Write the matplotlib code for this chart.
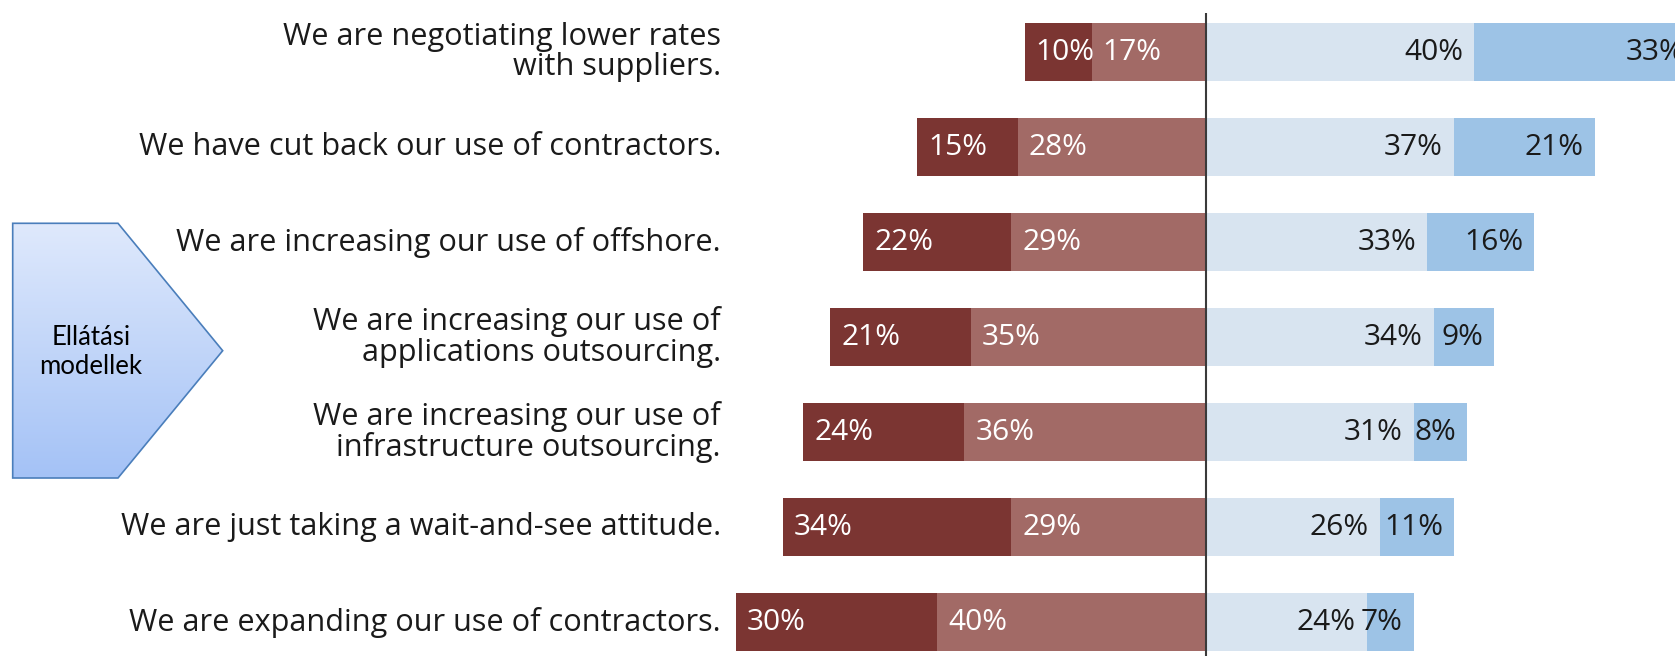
import matplotlib
matplotlib.use("Agg")
import matplotlib.pyplot as plt
import numpy as np
from matplotlib.patches import Polygon
from matplotlib.colors import LinearSegmentedColormap

# Survey statements, top to bottom
statements = [
    "We are negotiating lower rates\nwith suppliers.",
    "We have cut back our use of contractors.",
    "We are increasing our use of offshore.",
    "We are increasing our use of\napplications outsourcing.",
    "We are increasing our use of\ninfrastructure outsourcing.",
    "We are just taking a wait-and-see attitude.",
    "We are expanding our use of contractors.",
]
# Left side (disagree): outer dark segment and inner light segment
strong_no = [10, 15, 22, 21, 24, 34, 30]
some_no = [17, 28, 29, 35, 36, 29, 40]
# Right side (agree): inner light segment and outer blue segment
some_yes = [40, 37, 33, 34, 31, 26, 24]
strong_yes = [33, 21, 16, 9, 8, 11, 7]

callout_text = "Ellátási\nmodellek"

C_DARK_RED = "#7B3532"
C_LIGHT_RED = "#A26A66"
C_LIGHT_BLUE = "#D8E4F0"
C_BLUE = "#9DC3E6"
TEXT_DARK = "#1A1A1A"

W, H = 1675, 656
fig = plt.figure(figsize=(W / 100, H / 100), dpi=100)
fig.patch.set_facecolor("white")

# Main diverging bar axes
ax = fig.add_axes([725 / W, 0, 950 / W, (H - 12.7) / H])
ax.set_xlim(-71.64, 69.94)
ax.set_ylim(6.356, -0.416)
ax.axis("off")

y = np.arange(len(statements))
sn = np.array(strong_no)
mn = np.array(some_no)
my = np.array(some_yes)
sy = np.array(strong_yes)
bh = 0.616

ax.barh(y, -mn, height=bh, color=C_LIGHT_RED, linewidth=0)
ax.barh(y, -sn, left=-mn, height=bh, color=C_DARK_RED, linewidth=0)
ax.barh(y, my, height=bh, color=C_LIGHT_BLUE, linewidth=0)
ax.barh(y, sy, left=my, height=bh, color=C_BLUE, linewidth=0)
ax.axvline(0, color="#3A3A3A", lw=1.5, zorder=5)

font = "Open Sans"
fs_pct = 21.5
fs_cat = 22.1
pad = 8.0  # points

for i in range(len(statements)):
    ax.annotate(f"{strong_no[i]}%", xy=(-(some_no[i] + strong_no[i]), i),
                xytext=(pad, 0), textcoords="offset points",
                ha="left", va="center", color="white",
                fontsize=fs_pct, family=font)
    ax.annotate(f"{some_no[i]}%", xy=(-some_no[i], i),
                xytext=(pad, 0), textcoords="offset points",
                ha="left", va="center", color="white",
                fontsize=fs_pct, family=font)
    ax.annotate(f"{some_yes[i]}%", xy=(some_yes[i], i),
                xytext=(-pad, 0), textcoords="offset points",
                ha="right", va="center", color=TEXT_DARK,
                fontsize=fs_pct, family=font, annotation_clip=False)
    ax.annotate(f"{strong_yes[i]}%", xy=(some_yes[i] + strong_yes[i], i),
                xytext=(-pad, 0), textcoords="offset points",
                ha="right", va="center", color=TEXT_DARK,
                fontsize=fs_pct, family=font, annotation_clip=False)
    ax.text(-4 / 950, i, statements[i], transform=ax.get_yaxis_transform(),
            ha="right", va="center", multialignment="right",
            fontsize=fs_cat, family=font, color=TEXT_DARK, linespacing=1.02)

# Callout arrow shape on the left, in pixel coordinates
ov = fig.add_axes([0, 0, 1, 1], zorder=3)
ov.set_xlim(0, W)
ov.set_ylim(H, 0)
ov.axis("off")

verts = [(12.7, 223.3), (118, 223.3), (222.7, 350.7), (118, 478), (12.7, 478)]
grad = LinearSegmentedColormap.from_list("callout", ["#DFE9FC", "#A4C2F6"])
img = np.linspace(0, 1, 256).reshape(-1, 1)
im = ov.imshow(img, extent=(12.7, 222.7, 478, 223.3), cmap=grad,
               aspect="auto", origin="upper", interpolation="bilinear")
clip = Polygon(verts, closed=True, transform=ov.transData)
im.set_clip_path(clip)
ov.add_patch(Polygon(verts, closed=True, fill=False,
                     edgecolor="#4A7EBB", lw=1.2, joinstyle="miter"))
ov.set_xlim(0, W)
ov.set_ylim(H, 0)
ov.text(91, 352, callout_text, ha="center", va="center",
        multialignment="center", fontsize=18.5, family="Lato",
        color="black", linespacing=1.2)

fig.savefig("out.png", dpi=100, facecolor="white")
